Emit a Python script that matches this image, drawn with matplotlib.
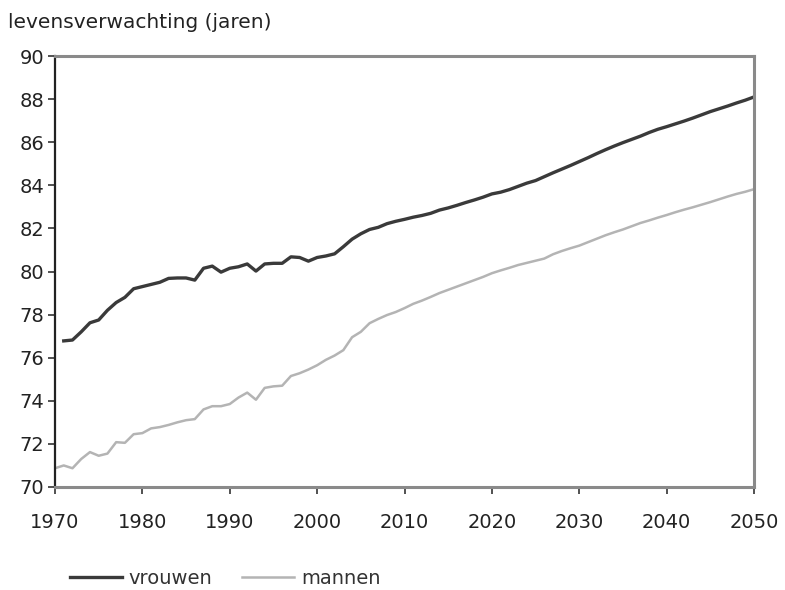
import matplotlib.pyplot as plt

plt.rcParams['font.family'] = ['DejaVu Sans']

# levensverwachting bij geboorte, waarneming + prognose
jaren_v = list(range(1971, 2051))
vrouwen = [76.78, 76.82, 77.2, 77.62, 77.75, 78.2, 78.56, 78.8, 79.2, 79.3,
           79.4, 79.5, 79.68, 79.7, 79.7, 79.6, 80.15, 80.25, 79.97, 80.15,
           80.22, 80.35, 80.02, 80.35, 80.38, 80.38, 80.68, 80.65, 80.48, 80.65,
           80.72, 80.82, 81.15, 81.5, 81.75, 81.95, 82.05, 82.22, 82.33, 82.42,
           82.52, 82.6, 82.7, 82.85, 82.95, 83.07, 83.2, 83.32, 83.45, 83.6,
           83.68, 83.8, 83.95, 84.1, 84.22, 84.4, 84.58, 84.75, 84.92, 85.1,
           85.28, 85.47, 85.65, 85.82, 85.98, 86.13, 86.28, 86.45, 86.6, 86.72,
           86.85, 86.98, 87.12, 87.27, 87.42, 87.55, 87.68, 87.82, 87.95, 88.1]

jaren_m = list(range(1970, 2051))
mannen = [70.87, 71.0, 70.87, 71.3, 71.62, 71.45, 71.55, 72.08, 72.05, 72.45,
          72.5, 72.72, 72.78, 72.88, 73.0, 73.1, 73.15, 73.6, 73.75, 73.75,
          73.85, 74.15, 74.38, 74.05, 74.6, 74.67, 74.7, 75.15, 75.28, 75.45,
          75.65, 75.9, 76.1, 76.35, 76.95, 77.2, 77.6, 77.8, 77.98, 78.12,
          78.3, 78.5, 78.65, 78.82, 79.0, 79.15, 79.3, 79.45, 79.6, 79.75,
          79.92, 80.05, 80.17, 80.3, 80.4, 80.5, 80.6, 80.8, 80.95, 81.08,
          81.2, 81.36, 81.52, 81.68, 81.82, 81.95, 82.1, 82.25, 82.37, 82.5,
          82.62, 82.75, 82.87, 82.98, 83.1, 83.22, 83.35, 83.48, 83.6, 83.7,
          83.82]

xticks = list(range(1970, 2051, 10))
yticks = list(range(70, 91, 2))

fig = plt.figure(figsize=(7.85, 5.9), dpi=100)
ax = fig.add_axes([55/785, 1-487/590, 699/785, 431/590])

ax.plot(jaren_v, vrouwen, color='#3a3a3a', lw=2.4, label='vrouwen')
ax.plot(jaren_m, mannen, color='#b4b4b4', lw=1.8, label='mannen')

ax.set_xlim(1970, 2050)
ax.set_ylim(70, 90)
ax.set_xticks(xticks)
ax.set_yticks(yticks)
ax.tick_params(labelsize=14, length=5, width=1.2, colors='#333333')
ax.tick_params(axis='x', pad=14)
ax.tick_params(axis='y', pad=3)
for lbl in ax.get_xticklabels() + ax.get_yticklabels():
    lbl.set_color('#222222')

ax.spines['left'].set_color('#222222')
ax.spines['left'].set_linewidth(1.6)
for s in ['top', 'right', 'bottom']:
    ax.spines[s].set_color('#8a8a8a')
    ax.spines[s].set_linewidth(2.2)

fig.text(8/785, 1-22/590, 'levensverwachting (jaren)', fontsize=14.5,
         color='#222222', va='center', ha='left')

fig.legend(loc='center left', bbox_to_anchor=(52/785, 1-578/590), ncol=2,
           frameon=False, fontsize=14, handlelength=2.7, handletextpad=0.35,
           columnspacing=1.5, labelcolor='#333333')

fig.savefig('out.png', dpi=100)
